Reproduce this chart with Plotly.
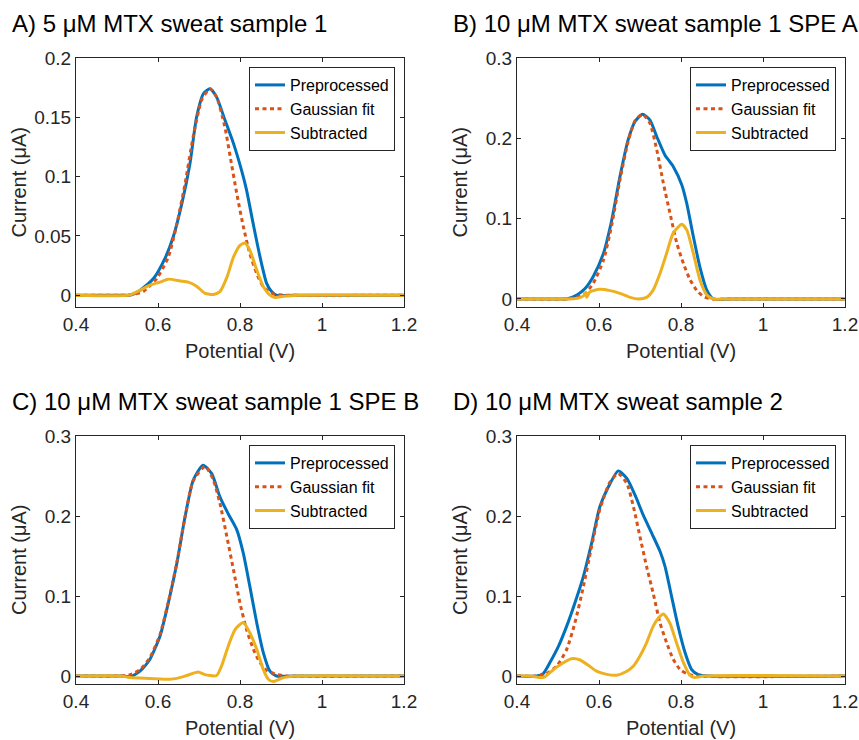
import plotly.graph_objects as go

# ---------------- data ----------------
titles = ["A) 5 μM MTX sweat sample 1", "B) 10 μM MTX sweat sample 1 SPE A",
          "C) 10 μM MTX sweat sample 1 SPE B", "D) 10 μM MTX sweat sample 2"]
series_names = ["Preprocessed", "Gaussian fit", "Subtracted"]
x_ticks = [0.4, 0.6, 0.8, 1.0, 1.2]
x_tick_text = ["0.4", "0.6", "0.8", "1", "1.2"]
y_ticks_a = [0, 0.05, 0.1, 0.15, 0.2]
y_tick_text_a = ["0", "0.05", "0.1", "0.15", "0.2"]
y_ticks_bcd = [0, 0.1, 0.2, 0.3]
y_tick_text_bcd = ["0", "0.1", "0.2", "0.3"]

# Panel A
a_pre_x = [0.40, 0.50, 0.532, 0.556, 0.589, 0.617, 0.637, 0.658, 0.678, 0.694, 0.711, 0.727, 0.743, 0.763, 0.784, 0.804, 0.816, 0.832, 0.849, 0.865, 0.877, 0.889, 0.95, 1.2]
a_pre_y = [0, 0, 0.0, 0.004, 0.014, 0.031, 0.049, 0.077, 0.111, 0.150, 0.170, 0.174, 0.167, 0.148, 0.128, 0.105, 0.0886, 0.0605, 0.032, 0.0099, 0.003, 0.0, 0, 0]
a_fit_x = [0.40, 0.52, 0.545, 0.564, 0.597, 0.625, 0.646, 0.666, 0.686, 0.707, 0.727, 0.743, 0.763, 0.776, 0.792, 0.808, 0.824, 0.841, 0.857, 0.881, 0.91, 1.2]
a_fit_y = [0, 0, 0.001, 0.003, 0.014, 0.032, 0.060, 0.094, 0.134, 0.165, 0.174, 0.167, 0.142, 0.117, 0.086, 0.058, 0.035, 0.018, 0.007, 0.001, 0, 0]
a_sub_x = [0.40, 0.53, 0.556, 0.580, 0.605, 0.625, 0.654, 0.674, 0.694, 0.715, 0.735, 0.751, 0.768, 0.784, 0.800, 0.812, 0.824, 0.841, 0.857, 0.873, 0.885, 0.906, 0.94, 1.2]
a_sub_y = [0, 0, 0.004, 0.0084, 0.011, 0.0135, 0.012, 0.011, 0.0076, 0.0014, 0.0006, 0.003, 0.015, 0.032, 0.042, 0.044, 0.038, 0.021, 0.007, 0.0, -0.002, -0.001, 0, 0]

# Panel B
b_pre_x = [0.40, 0.50, 0.521, 0.546, 0.566, 0.586, 0.611, 0.631, 0.651, 0.671, 0.688, 0.706, 0.724, 0.741, 0.761, 0.781, 0.802, 0.814, 0.830, 0.846, 0.863, 0.879, 0.92, 1.2]
b_pre_y = [0, 0, 0, 0.005, 0.013, 0.028, 0.057, 0.098, 0.152, 0.198, 0.221, 0.230, 0.223, 0.202, 0.179, 0.165, 0.142, 0.119, 0.078, 0.040, 0.011, 0.0, 0, 0]
b_fit_x = [0.40, 0.52, 0.545, 0.566, 0.586, 0.611, 0.631, 0.651, 0.671, 0.688, 0.706, 0.724, 0.741, 0.757, 0.773, 0.790, 0.806, 0.822, 0.838, 0.855, 0.875, 0.92, 1.2]
b_fit_y = [0, 0, 0.002, 0.007, 0.0195, 0.0485, 0.092, 0.148, 0.196, 0.222, 0.230, 0.219, 0.1855, 0.144, 0.107, 0.069, 0.044, 0.024, 0.011, 0.003, 0.0, 0, 0]
b_sub_x = [0.40, 0.53, 0.55, 0.562, 0.567, 0.570, 0.578, 0.602, 0.627, 0.651, 0.676, 0.696, 0.716, 0.732, 0.749, 0.765, 0.781, 0.802, 0.814, 0.830, 0.846, 0.863, 0.879, 0.92, 1.2]
b_sub_y = [0, 0, 0.001, 0.0037, 0.008, 0.002, 0.009, 0.012, 0.0104, 0.007, 0.002, 0.0, 0.002, 0.011, 0.032, 0.057, 0.082, 0.093, 0.086, 0.057, 0.024, 0.005, 0.0, 0, 0]

# Panel C
c_pre_x = [0.40, 0.50, 0.515, 0.532, 0.556, 0.580, 0.605, 0.625, 0.646, 0.666, 0.686, 0.710, 0.731, 0.751, 0.771, 0.792, 0.808, 0.824, 0.841, 0.857, 0.873, 0.889, 0.93, 1.2]
c_pre_y = [0, 0, 0, -0.001, 0.006, 0.0207, 0.050, 0.091, 0.141, 0.199, 0.245, 0.2635, 0.253, 0.224, 0.203, 0.183, 0.1535, 0.112, 0.066, 0.029, 0.006, 0.0, 0, 0]
c_fit_x = [0.40, 0.50, 0.532, 0.556, 0.580, 0.605, 0.625, 0.646, 0.666, 0.686, 0.715, 0.735, 0.751, 0.768, 0.784, 0.800, 0.816, 0.833, 0.849, 0.865, 0.889, 0.914, 1.2]
c_fit_y = [0, 0, 0.0017, 0.008, 0.0228, 0.052, 0.092, 0.142, 0.199, 0.244, 0.262, 0.245, 0.216, 0.174, 0.133, 0.091, 0.058, 0.033, 0.0166, 0.007, 0.002, 0, 0]
c_sub_x = [0.40, 0.51, 0.532, 0.580, 0.629, 0.646, 0.670, 0.698, 0.714, 0.743, 0.755, 0.771, 0.788, 0.808, 0.824, 0.841, 0.857, 0.869, 0.881, 0.906, 0.937, 1.2]
c_sub_y = [0, 0, -0.002, -0.003, -0.004, -0.003, 0.0006, 0.005, 0.0017, 0.0006, 0.0125, 0.037, 0.058, 0.067, 0.054, 0.033, 0.008, -0.004, -0.007, -0.002, 0, 0]

# Panel D
d_pre_x = [0.40, 0.448, 0.464, 0.480, 0.501, 0.521, 0.541, 0.562, 0.582, 0.602, 0.623, 0.647, 0.668, 0.688, 0.708, 0.729, 0.749, 0.761, 0.777, 0.793, 0.810, 0.826, 0.842, 0.87, 1.2]
d_pre_y = [0, 0, 0.003, 0.0166, 0.037, 0.062, 0.091, 0.1245, 0.166, 0.2116, 0.2365, 0.2564, 0.247, 0.226, 0.201, 0.178, 0.1556, 0.137, 0.0996, 0.062, 0.029, 0.008, 0.0017, 0, 0]
d_fit_x = [0.40, 0.448, 0.472, 0.497, 0.521, 0.541, 0.562, 0.582, 0.602, 0.627, 0.647, 0.668, 0.684, 0.700, 0.716, 0.732, 0.749, 0.765, 0.781, 0.798, 0.814, 0.838, 1.2]
d_fit_y = [0, 0, 0.003, 0.0125, 0.033, 0.066, 0.112, 0.162, 0.208, 0.2427, 0.253, 0.2406, 0.2116, 0.174, 0.137, 0.1037, 0.066, 0.0415, 0.021, 0.008, 0.003, 0, 0]
d_sub_x = [0.40, 0.432, 0.456, 0.468, 0.489, 0.513, 0.533, 0.554, 0.574, 0.594, 0.619, 0.643, 0.668, 0.684, 0.700, 0.716, 0.732, 0.745, 0.757, 0.773, 0.789, 0.806, 0.822, 0.834, 0.855, 1.2]
d_sub_y = [0, 0, -0.002, -0.001, 0.008, 0.0166, 0.0216, 0.020, 0.0133, 0.006, 0.002, 0.001, 0.006, 0.0125, 0.025, 0.0415, 0.062, 0.0726, 0.0776, 0.066, 0.0415, 0.0166, 0.0008, -0.002, 0, 0]

panels = [
    (a_pre_x, a_pre_y, a_fit_x, a_fit_y, a_sub_x, a_sub_y),
    (b_pre_x, b_pre_y, b_fit_x, b_fit_y, b_sub_x, b_sub_y),
    (c_pre_x, c_pre_y, c_fit_x, c_fit_y, c_sub_x, c_sub_y),
    (d_pre_x, d_pre_y, d_fit_x, d_fit_y, d_sub_x, d_sub_y),
]

# ---------------- layout / style ----------------
W, H = 859, 740
FONT = "Liberation Sans, Arial, Helvetica, sans-serif"
DARK = "#262626"
COLORS = ["#0072BD", "#D95319", "#EDB120"]

# axes boxes in pixels: (left, right, top, bottom)
boxes = [(76, 404, 58, 307), (517, 845, 58, 307), (76, 404, 436, 684), (517, 845, 436, 684)]

fig = go.Figure()
legend_names = ["legend", "legend2", "legend3", "legend4"]

for i, (px, py, fx, fy, sx, sy) in enumerate(panels):
    xa = "x" if i == 0 else f"x{i+1}"
    ya = "y" if i == 0 else f"y{i+1}"
    common = dict(xaxis=xa, yaxis=ya, mode="lines", legend=legend_names[i])
    fig.add_trace(go.Scatter(x=px, y=py, name=series_names[0],
                             line=dict(color=COLORS[0], width=3, shape="spline", smoothing=0.6), **common))
    fig.add_trace(go.Scatter(x=fx, y=fy, name=series_names[1],
                             line=dict(color=COLORS[1], width=3, dash="4px,3.5px", shape="spline", smoothing=0.6), **common))
    fig.add_trace(go.Scatter(x=sx, y=sy, name=series_names[2],
                             line=dict(color=COLORS[2], width=3, shape="spline", smoothing=0.6), **common))

layout = dict(
    width=W, height=H,
    margin=dict(l=0, r=0, t=0, b=0, pad=0),
    paper_bgcolor="white", plot_bgcolor="white",
    font=dict(family=FONT, color=DARK, size=19),
    annotations=[],
)

for i, (l, r, t, b) in enumerate(boxes):
    xk = "xaxis" if i == 0 else f"xaxis{i+1}"
    yk = "yaxis" if i == 0 else f"yaxis{i+1}"
    xa = "x" if i == 0 else f"x{i+1}"
    ya = "y" if i == 0 else f"y{i+1}"
    axis_common = dict(showline=True, linecolor=DARK, linewidth=1, mirror="ticks",
                       ticks="inside", ticklen=4, tickcolor=DARK, tickwidth=1,
                       showgrid=False, zeroline=False, automargin=False,
                       tickfont=dict(family=FONT, size=19, color=DARK))
    layout[xk] = dict(domain=[l / W, r / W], anchor=ya, range=[0.4, 1.2],
                      tickvals=x_ticks, ticktext=x_tick_text, **axis_common)
    if i == 0:
        yv, yt, yr = y_ticks_a, y_tick_text_a, [-0.01, 0.2]
    else:
        yv, yt, yr = y_ticks_bcd, y_tick_text_bcd, [-0.01, 0.3]
    layout[yk] = dict(domain=[1 - b / H, 1 - t / H], anchor=xa, range=yr,
                      tickvals=yv, ticktext=yt, **axis_common)

    # legend inside each axes (top-right)
    lk = legend_names[i]
    layout[lk] = dict(x=(r - 9) / W, xanchor="right", y=1 - (t + 9) / H, yanchor="top",
                      xref="paper", yref="paper",
                      bgcolor="white", bordercolor=DARK, borderwidth=1,
                      font=dict(family=FONT, size=16, color="black"),
                      tracegroupgap=0, itemwidth=30)

    # panel title
    layout["annotations"].append(dict(
        text=titles[i], xref="paper", yref="paper", x=(l - 66) / W, xanchor="left",
        y=1 - (t - 35) / H, yanchor="middle", showarrow=False,
        font=dict(family=FONT, size=24, color="black")))
    # x-axis title
    layout["annotations"].append(dict(
        text="Potential (V)", xref="paper", yref="paper", x=(l + r) / 2 / W, xanchor="center",
        y=1 - (b + 44) / H, yanchor="middle", showarrow=False,
        font=dict(family=FONT, size=20, color=DARK)))
    # y-axis title
    layout["annotations"].append(dict(
        text="Current (μA)", xref="paper", yref="paper", x=(l - 57) / W, xanchor="center",
        y=1 - (t + b) / 2 / H, yanchor="middle", textangle=-90, showarrow=False,
        font=dict(family=FONT, size=20, color=DARK)))

fig.update_layout(**layout)
fig.write_html("out.html")
